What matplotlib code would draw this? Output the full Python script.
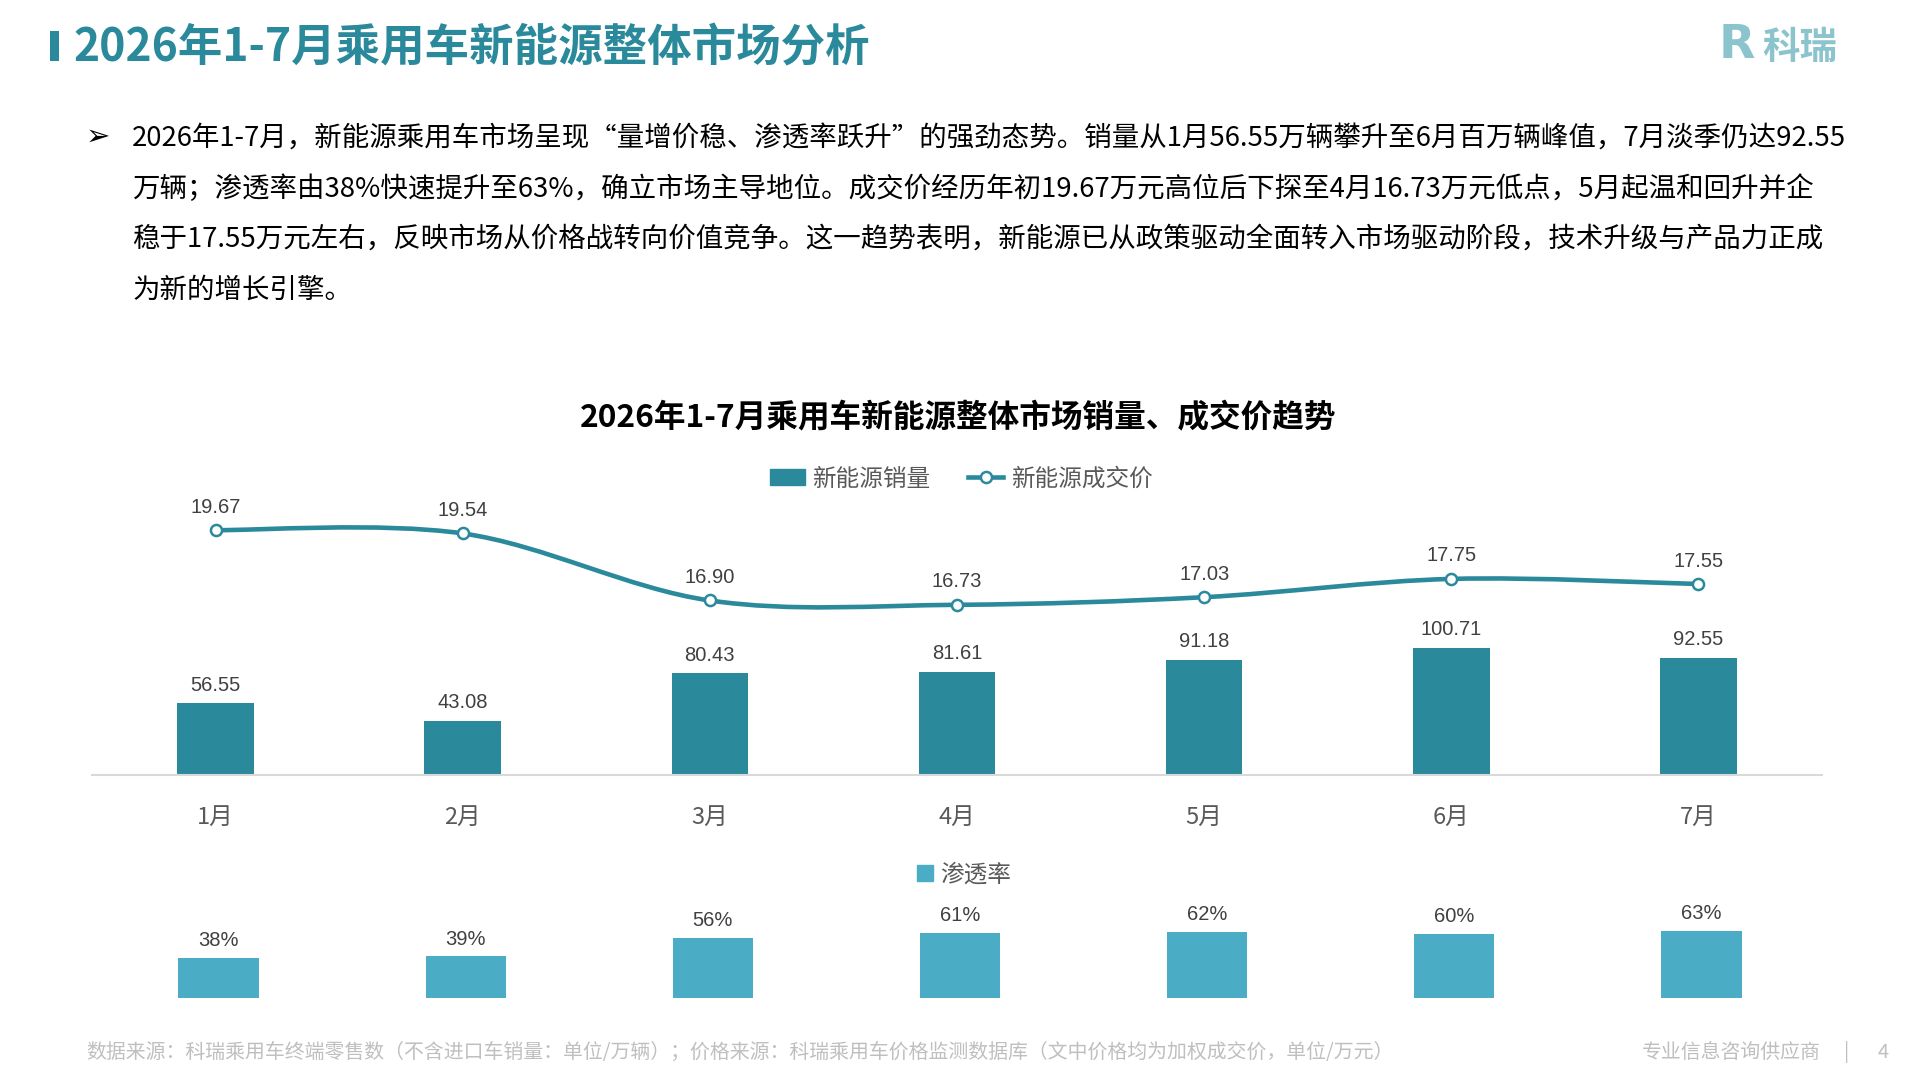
import numpy as np
import matplotlib
matplotlib.use('Agg')
import matplotlib.pyplot as plt
from matplotlib.path import Path
from matplotlib.patches import PathPatch, Patch, Rectangle
from matplotlib.lines import Line2D

plt.rcParams['font.family'] = ['Noto Sans CJK SC', 'DejaVu Sans']

months = ['1月', '2月', '3月', '4月', '5月', '6月', '7月']
sales = [56.55, 43.08, 80.43, 81.61, 91.18, 100.71, 92.55]      # 万辆
price = [19.67, 19.54, 16.90, 16.73, 17.03, 17.75, 17.55]       # 万元
penetration = [38, 39, 56, 61, 62, 60, 63]                      # %

title = '2026年1-7月乘用车新能源整体市场分析'
chart_title = '2026年1-7月乘用车新能源整体市场销量、成交价趋势'
para = [
    '2026年1-7月，新能源乘用车市场呈现“量增价稳、渗透率跃升”的强劲态势。销量从1月56.55万辆攀升至6月百万辆峰值，7月淡季仍达92.55',
    '万辆；渗透率由38%快速提升至63%，确立市场主导地位。成交价经历年初19.67万元高位后下探至4月16.73万元低点，5月起温和回升并企',
    '稳于17.55万元左右，反映市场从价格战转向价值竞争。这一趋势表明，新能源已从政策驱动全面转入市场驱动阶段，技术升级与产品力正成',
    '为新的增长引擎。',
]
footer = '数据来源：科瑞乘用车终端零售数（不含进口车销量：单位/万辆）；价格来源：科瑞乘用车价格监测数据库（文中价格均为加权成交价，单位/万元）'

TEAL = '#2A8A9C'
LIGHT = '#4BACC6'
W, H = 1920, 1080


def box(x0, y0, x1, y1):
    # pixel box with top-left origin -> figure rect
    return [x0 / W, 1 - y1 / H, (x1 - x0) / W, (y1 - y0) / H]


def fy(y):
    return 1 - y / H


fig = plt.figure(figsize=(19.2, 10.8), dpi=100)

# header
fig.add_artist(Rectangle((50 / W, fy(61)), 9 / W, 30 / H, transform=fig.transFigure,
                         color=TEAL, lw=0))
fig.text(73 / W, fy(48), title, fontsize=32, weight='bold', color=TEAL, va='center')
fig.text(1719 / W, fy(46), 'R', fontsize=34, weight='bold', color='#8CC4CE',
         family='DejaVu Sans', va='center')
fig.text(1762 / W, fy(47), '科瑞', fontsize=27, weight='bold', color='#8CC4CE', va='center')

# paragraph
fig.text(98 / W, fy(137), '➢', fontsize=21, family='DejaVu Sans', va='center', ha='center')
ptexts = []
for i, line in enumerate(para):
    ptexts.append(fig.text(132 / W, fy(138 + i * 50.7), line, fontsize=20,
                           color='black', va='center'))
fig.canvas.draw()
rend = fig.canvas.get_renderer()
widest = max(t.get_window_extent(rend).width for t in ptexts)
for t in ptexts:
    t.set_fontsize(20 * 1712 / widest)

# chart title + legend
fig.text(958 / W, fy(418), chart_title, fontsize=22.8, weight='bold', color='black',
         ha='center', va='center')

x = np.arange(len(months))

ax = fig.add_axes(box(92, 490, 1822, 775))
ax.bar(x, sales, width=0.31, color=TEAL, zorder=2)
ax.set_xlim(-0.5, 6.5)
ax.set_ylim(0, 285 / 1.265)
for s in ['left', 'right', 'top']:
    ax.spines[s].set_visible(False)
ax.spines['bottom'].set_color('#D9D9D9')
ax.spines['bottom'].set_linewidth(1.5)
ax.set_yticks([])
ax.set_xticks(x)
ax.set_xticklabels(months, fontsize=17, color='#595959')
ax.tick_params(axis='x', length=0, pad=22.5)
for i, v in enumerate(sales):
    ax.annotate(f'{v:.2f}', (i, v), xytext=(0, 13), textcoords='offset points',
                ha='center', va='center', fontsize=14.5, color='#404040',
                family='Liberation Sans')

ax2 = ax.twinx()
ax2.set_ylim(10.03, 21.25)
ax2.axis('off')
# smooth line (Catmull-Rom as cubic Bezier)
pts = np.column_stack([x, price]).astype(float)
ext = np.vstack([pts[0], pts, pts[-1]])
verts = [tuple(pts[0])]
codes = [Path.MOVETO]
for i in range(len(pts) - 1):
    p0, p1, p2, p3 = ext[i], ext[i + 1], ext[i + 2], ext[i + 3]
    verts += [tuple(p1 + (p2 - p0) / 6), tuple(p2 - (p3 - p1) / 6), tuple(p2)]
    codes += [Path.CURVE4] * 3
ax2.add_patch(PathPatch(Path(verts, codes), fill=False, edgecolor=TEAL, lw=3.3,
                        capstyle='round', zorder=3))
ax2.plot(x, price, 'o', ms=8, mfc='white', mec=TEAL, mew=1.8, zorder=4)
for i, v in enumerate(price):
    ax2.annotate(f'{v:.2f}', (i, v), xytext=(0, 16.5), textcoords='offset points',
                 ha='center', va='center', fontsize=14.5, color='#404040',
                 family='Liberation Sans')

handles = [Patch(color=TEAL),
           Line2D([], [], color=TEAL, lw=3.3, marker='o', ms=8, mfc='white',
                  mec=TEAL, mew=1.8)]
fig.legend(handles, ['新能源销量', '新能源成交价'], loc='center',
           bbox_to_anchor=(961 / W, fy(479)), ncol=2, frameon=False, fontsize=17,
           labelcolor='#595959', handlelength=1.5, handleheight=0.68,
           handletextpad=0.3, columnspacing=1.6)

# penetration bars
ax3 = fig.add_axes(box(95, 898, 1825, 998))
ax3.bar(x, penetration, width=0.325, color=LIGHT)
ax3.set_xlim(-0.5, 6.5)
ax3.set_ylim(0, 100 / 1.065)
ax3.axis('off')
for i, v in enumerate(penetration):
    ax3.annotate(f'{v}%', (i, v), xytext=(0, 12.5), textcoords='offset points',
                 ha='center', va='center', fontsize=14.5, color='#404040',
                 family='Liberation Sans')
fig.legend([Patch(color=LIGHT)], ['渗透率'], loc='center',
           bbox_to_anchor=(964 / W, fy(875)), frameon=False, fontsize=17,
           labelcolor='#595959', handlelength=0.65, handleheight=0.65,
           handletextpad=0.3)

# footer
fig.text(86 / W, fy(1052), footer, fontsize=14.3, color='#BFBFBF', va='center')
fig.text(1821 / W, fy(1052), '专业信息咨询供应商', fontsize=14.3, color='#BFBFBF',
         va='center', ha='right')
fig.text(1847 / W, fy(1052), '|', fontsize=14.3, color='#BFBFBF', va='center', ha='center')
fig.text(1883 / W, fy(1052), '4', fontsize=14.3, color='#BFBFBF', va='center', ha='center')

fig.savefig('out.png', dpi=100)
